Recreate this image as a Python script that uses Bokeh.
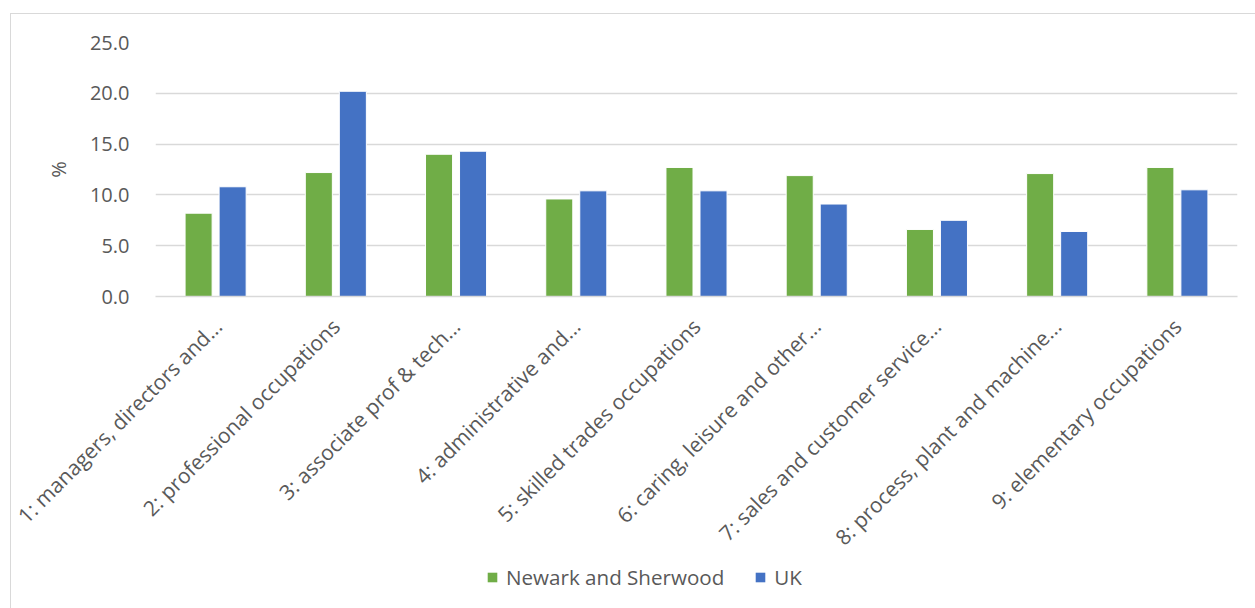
import math
from bokeh.plotting import figure
from bokeh.layouts import column
from bokeh.models import (ColumnDataSource, FactorRange, Range1d, Legend, LegendItem,
                          SingleIntervalTicker, CustomJSTickFormatter)
from bokeh.transform import dodge
from bokeh.embed import file_html
from bokeh.resources import INLINE

categories = [
    "1: managers, directors and...",
    "2: professional occupations",
    "3: associate prof & tech...",
    "4: administrative and...",
    "5: skilled trades occupations",
    "6: caring, leisure and other...",
    "7: sales and customer service...",
    "8: process, plant and machine...",
    "9: elementary occupations",
]
newark = [8.2, 12.2, 14.0, 9.6, 12.7, 11.9, 6.6, 12.1, 12.7]
uk = [10.8, 20.2, 14.3, 10.4, 10.4, 9.1, 7.5, 6.4, 10.5]
series_names = ["Newark and Sherwood", "UK"]

GREEN = "#70AD47"
BLUE = "#4472C4"
TEXT = "#595959"
GRID = "#D9D9D9"
FONT = "Open Sans"

src = ColumnDataSource(dict(cat=categories, newark=newark, uk=uk))

p = figure(
    width=1244, height=572,
    x_range=FactorRange(*categories, range_padding=0),
    y_range=(0, 25),
    output_backend="svg", toolbar_location=None,
    min_border_left=144, min_border_right=18, min_border_top=28, min_border_bottom=290,
)
p.outline_line_color = None
p.background_fill_color = "white"
p.border_fill_color = "white"

p.vbar(x=dodge("cat", -0.1415, range=p.x_range), top="newark", width=0.225,
       source=src, fill_color=GREEN, line_color="white", line_width=1)
p.vbar(x=dodge("cat", 0.1415, range=p.x_range), top="uk", width=0.225,
       source=src, fill_color=BLUE, line_color="white", line_width=1)

p.xgrid.grid_line_color = None
p.ygrid.grid_line_color = GRID
p.ygrid.grid_line_width = 1.5
p.yaxis.ticker = SingleIntervalTicker(interval=5)
p.yaxis.formatter = CustomJSTickFormatter(code="return tick.toFixed(1);")
p.yaxis.axis_line_color = None
p.yaxis.major_tick_line_color = None
p.yaxis.minor_tick_line_color = None
p.yaxis.major_label_standoff = 20
p.yaxis.major_label_text_font = FONT
p.yaxis.major_label_text_font_size = "20px"
p.yaxis.major_label_text_color = TEXT
p.yaxis.axis_label = "%"
p.yaxis.axis_label_text_font = FONT
p.yaxis.axis_label_text_font_size = "20px"
p.yaxis.axis_label_text_font_style = "normal"
p.yaxis.axis_label_text_color = TEXT
p.yaxis.axis_label_standoff = 15

p.xaxis.axis_line_color = GRID
p.xaxis.axis_line_width = 1.5
p.xaxis.major_tick_line_color = None
p.xaxis.minor_tick_line_color = None
p.xaxis.major_label_orientation = math.pi / 4
p.xaxis.major_label_standoff = 20
p.xaxis.major_label_text_font = FONT
p.xaxis.major_label_text_font_size = "21px"
p.xaxis.major_label_text_color = TEXT

# legend strip below the chart (series renderers hidden; only the legend shows)
q = figure(
    width=1244, height=48,
    x_range=FactorRange(*categories, range_padding=0), y_range=Range1d(-2, -1),
    x_axis_type=None, y_axis_type=None,
    output_backend="svg", toolbar_location=None,
    min_border=0,
)
q.margin = (-26, 0, 0, 0)
q.outline_line_color = None
q.background_fill_alpha = 0
q.border_fill_alpha = 0
q.xgrid.grid_line_color = None
q.ygrid.grid_line_color = None
g1 = q.vbar(x="cat", top="newark", width=0.2, source=src, fill_color=GREEN, line_color=None)
g2 = q.vbar(x="cat", top="uk", width=0.2, source=src, fill_color=BLUE, line_color=None)
g1.visible = False
g2.visible = False

legend = Legend(
    items=[LegendItem(label=series_names[0], renderers=[g1]),
           LegendItem(label=series_names[1], renderers=[g2])],
    orientation="horizontal",
    location=(331, 17),
    padding=0, margin=0, spacing=30,
    glyph_width=12, glyph_height=12, label_standoff=8,
    label_text_font=FONT, label_text_font_size="20.6px", label_text_color=TEXT,
    border_line_color=None, background_fill_alpha=0,
    inactive_fill_alpha=0,
)
q.add_layout(legend, "center")

layout = column(p, q, spacing=0)
layout.margin = (13, 0, 0, 10)
layout.styles = {"border-left": f"1px solid {GRID}", "border-top": f"1px solid {GRID}"}

open("out.html", "w").write(file_html(layout, INLINE))
